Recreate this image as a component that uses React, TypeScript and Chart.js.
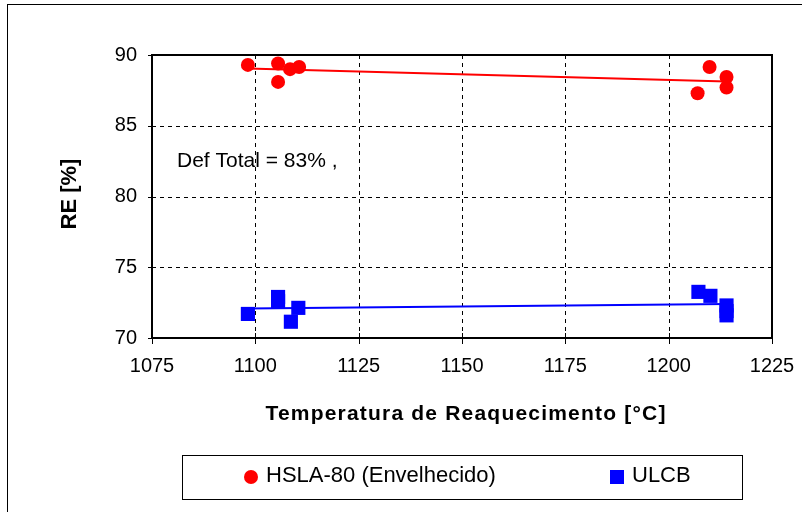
import React, { useEffect, useRef } from 'react';
import { Chart, registerables } from 'chart.js';

Chart.register(...registerables);

// ---- Data ----
const hslaTemp = [1098.2, 1105.5, 1105.5, 1108.4, 1110.6, 1209.9, 1214, 1214, 1207];
const hslaRE = [89.3, 89.4, 88.1, 89.0, 89.15, 89.15, 88.45, 87.7, 87.3];
const ulcbTemp = [1098.2, 1105.5, 1105.5, 1108.6, 1110.4, 1207.2, 1210.1, 1214, 1214, 1214];
const ulcbRE = [71.7, 72.9, 72.6, 71.15, 72.13, 73.26, 72.98, 72.3, 71.9, 71.6];
const xTicks = [1075, 1100, 1125, 1150, 1175, 1200, 1225];
const yTicks = [70, 75, 80, 85, 90];
const seriesLabels = ['HSLA-80 (Envelhecido)', 'ULCB'];
const seriesColors = ['#FF0000', '#0000FF'];
const xTitle = 'Temperatura de Reaquecimento [°C]';
const yTitle = 'RE [%]';
const annotationText = 'Def Total = 83% ,';

function toPoints(xs: number[], ys: number[]) {
  return xs.map((x, i) => ({ x, y: ys[i] }));
}

// linear least-squares trendline over the data range (as the spreadsheet does)
function trendline(xs: number[], ys: number[]) {
  const n = xs.length;
  const mx = xs.reduce((a, b) => a + b, 0) / n;
  const my = ys.reduce((a, b) => a + b, 0) / n;
  let sxy = 0;
  let sxx = 0;
  for (let i = 0; i < n; i++) {
    sxy += (xs[i] - mx) * (ys[i] - my);
    sxx += (xs[i] - mx) * (xs[i] - mx);
  }
  const b = sxy / sxx;
  const a = my - b * mx;
  const x0 = Math.min(...xs);
  const x1 = Math.max(...xs);
  return [
    { x: x0, y: a + b * x0 },
    { x: x1, y: a + b * x1 },
  ];
}

const FONT = '"Liberation Sans", Arial, sans-serif';

const decorPlugin = {
  id: 'decor',
  beforeDraw(chart: any) {
    const ctx = chart.ctx;
    ctx.save();
    ctx.fillStyle = '#ffffff';
    ctx.fillRect(0, 0, chart.width, chart.height);
    ctx.strokeStyle = '#000';
    ctx.lineWidth = 1;
    ctx.strokeRect(7.5, 4.5, 810, 520);
    ctx.restore();
  },
  beforeDatasetsDraw(chart: any) {
    const ctx = chart.ctx;
    const { left, right, top, bottom } = chart.chartArea;
    const xs = chart.scales.x;
    const ys = chart.scales.y;
    ctx.save();
    ctx.strokeStyle = '#000';
    ctx.lineWidth = 1;
    ctx.setLineDash([4, 4]);
    xTicks.slice(1, -1).forEach((v) => {
      const px = Math.round(xs.getPixelForValue(v)) + 0.5;
      ctx.beginPath();
      ctx.moveTo(px, top);
      ctx.lineTo(px, bottom);
      ctx.stroke();
    });
    yTicks.slice(1, -1).forEach((v) => {
      const py = Math.round(ys.getPixelForValue(v)) + 0.5;
      ctx.beginPath();
      ctx.moveTo(left, py);
      ctx.lineTo(right, py);
      ctx.stroke();
    });
    ctx.setLineDash([]);
    // tick marks crossing the axes
    xTicks.forEach((v) => {
      const px = Math.round(xs.getPixelForValue(v)) + 0.5;
      ctx.beginPath();
      ctx.moveTo(px, bottom - 5);
      ctx.lineTo(px, bottom + 6);
      ctx.stroke();
    });
    yTicks.forEach((v) => {
      const py = Math.round(ys.getPixelForValue(v)) + 0.5;
      ctx.beginPath();
      ctx.moveTo(left - 4, py);
      ctx.lineTo(left + 4, py);
      ctx.stroke();
    });
    // plot border
    ctx.lineWidth = 2;
    ctx.strokeRect(left, top, right - left, bottom - top);
    ctx.restore();
  },
  afterDraw(chart: any) {
    const ctx = chart.ctx;
    ctx.save();
    ctx.fillStyle = '#000';
    // annotation
    ctx.font = `21px ${FONT}`;
    ctx.textAlign = 'left';
    ctx.textBaseline = 'alphabetic';
    ctx.fillText(annotationText, 177, 167);
    // x axis title
    ctx.font = `bold 21px ${FONT}`;
    ctx.textAlign = 'center';
    ctx.textBaseline = 'alphabetic';
    (ctx as any).letterSpacing = '1.2px';
    ctx.fillText(xTitle, 466, 420);
    (ctx as any).letterSpacing = '0px';
    // y axis title
    ctx.save();
    ctx.translate(76, 194);
    ctx.rotate(-Math.PI / 2);
    ctx.font = `bold 22px ${FONT}`;
    ctx.textAlign = 'center';
    ctx.textBaseline = 'alphabetic';
    ctx.fillText(yTitle, 0, 0);
    ctx.restore();
    // legend box
    ctx.strokeStyle = '#000';
    ctx.lineWidth = 1;
    ctx.strokeRect(182.5, 455.5, 560, 44);
    ctx.font = `22px ${FONT}`;
    ctx.textAlign = 'left';
    ctx.textBaseline = 'alphabetic';
    // series 1: circle
    ctx.fillStyle = seriesColors[0];
    ctx.beginPath();
    ctx.arc(251, 477, 7, 0, Math.PI * 2);
    ctx.fill();
    ctx.fillStyle = '#000';
    ctx.fillText(seriesLabels[0], 266, 482);
    // series 2: square
    ctx.fillStyle = seriesColors[1];
    ctx.fillRect(610, 470, 14, 14);
    ctx.fillStyle = '#000';
    ctx.fillText(seriesLabels[1], 632, 482);
    ctx.restore();
  },
};

export default function App() {
  const ref = useRef<HTMLCanvasElement | null>(null);
  useEffect(() => {
    document.body.style.margin = '0';
    if (!ref.current) return;
    const chart = new Chart(ref.current, {
      type: 'scatter',
      data: {
        datasets: [
          {
            label: seriesLabels[0],
            data: toPoints(hslaTemp, hslaRE),
            backgroundColor: seriesColors[0],
            borderColor: seriesColors[0],
            pointStyle: 'circle',
            pointRadius: 7,
            borderWidth: 0,
            order: 0,
          },
          {
            label: seriesLabels[1],
            data: toPoints(ulcbTemp, ulcbRE),
            backgroundColor: seriesColors[1],
            borderColor: seriesColors[1],
            pointStyle: 'rect',
            pointRadius: 10,
            borderWidth: 0,
            order: 0,
          },
          {
            label: seriesLabels[0] + ' trend',
            data: trendline(hslaTemp, hslaRE),
            showLine: true,
            borderColor: seriesColors[0],
            borderWidth: 2,
            pointRadius: 0,
            order: 1,
          },
          {
            label: seriesLabels[1] + ' trend',
            data: trendline(ulcbTemp, ulcbRE),
            showLine: true,
            borderColor: seriesColors[1],
            borderWidth: 2,
            pointRadius: 0,
            order: 1,
          },
        ],
      },
      options: {
        responsive: false,
        animation: false,
        devicePixelRatio: 1,
        layout: { padding: { left: 0, top: 55, right: 30, bottom: 114 } },
        plugins: { legend: { display: false }, tooltip: { enabled: false } },
        scales: {
          x: {
            type: 'linear',
            min: 1075,
            max: 1225,
            afterFit: (s: any) => {
              s.height = 60;
              s.paddingLeft = 0;
              s.paddingRight = 0;
            },
            afterBuildTicks: (s: any) => {
              s.ticks = xTicks.map((v) => ({ value: v }));
            },
            ticks: {
              color: '#000',
              font: { family: FONT, size: 20 },
              padding: 16,
              maxRotation: 0,
              callback: (v: any) => String(v),
            },
            grid: { display: true, drawOnChartArea: false, drawTicks: false },
            border: { display: false },
          },
          y: {
            type: 'linear',
            min: 70,
            max: 90,
            afterFit: (s: any) => {
              s.width = 152;
              s.paddingTop = 0;
              s.paddingBottom = 0;
            },
            afterBuildTicks: (s: any) => {
              s.ticks = yTicks.map((v) => ({ value: v }));
            },
            ticks: {
              color: '#000',
              font: { family: FONT, size: 20 },
              padding: 15,
              callback: (v: any) => String(v),
            },
            grid: { display: true, drawOnChartArea: false, drawTicks: false },
            border: { display: false },
          },
        },
      },
      plugins: [decorPlugin],
    });
    return () => chart.destroy();
  }, []);
  return (
    <div style={{ position: 'absolute', left: 0, top: 0, width: 802, height: 512 }}>
      <canvas ref={ref} width={802} height={512} />
    </div>
  );
}
